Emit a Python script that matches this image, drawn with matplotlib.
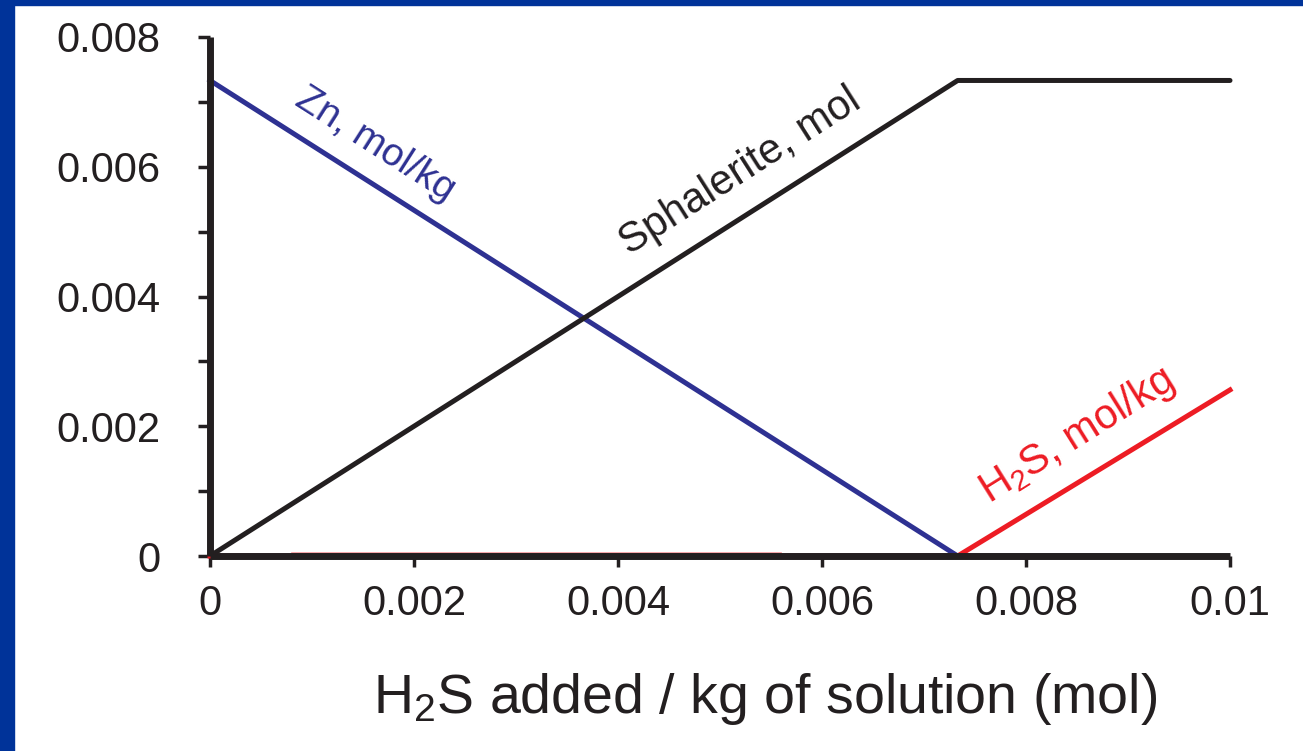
import matplotlib
matplotlib.use("Agg")
import matplotlib.pyplot as plt
from matplotlib.patches import Rectangle

# data (mol)
h2s_added = [0.0, 0.00733, 0.01]
zn_x = [0.0, 0.00733, 0.0088]
zn = [0.00733, 0.0, 0.0]
sphalerite = [0.0, 0.00733, 0.00733]
h2s = [0.0, 0.0, 0.00256]
h2s_trace_x = [0.0008, 0.0056]
h2s_trace = [0.00005, 0.00005]

x_ticks = [0.0, 0.002, 0.004, 0.006, 0.008, 0.01]
x_ticklabels = ['0', '0.002', '0.004', '0.006', '0.008', '0.01']
y_ticks = [0.0, 0.002, 0.004, 0.006, 0.008]
y_ticklabels = ['0', '0.002', '0.004', '0.006', '0.008']
y_minor = [0.001, 0.003, 0.005, 0.007]

c_blue = '#2E3192'
c_black = '#231F20'
c_red = '#ED1C24'
c_frame = '#003399'

plt.rcParams['font.family'] = ['Liberation Sans', 'DejaVu Sans']
plt.rcParams['mathtext.fontset'] = 'custom'
plt.rcParams['mathtext.rm'] = 'Liberation Sans'
plt.rcParams['mathtext.it'] = 'Liberation Sans:italic'
plt.rcParams['mathtext.default'] = 'rm'

fig = plt.figure(figsize=(13.03, 7.51), dpi=100)
ax = fig.add_axes([210/1303, 195/751, 1020/1303, 519/751])

# blue slide frame
fig.patches.append(Rectangle((0, 0), 14/1303, 1, transform=fig.transFigure,
                             color=c_frame, zorder=10))
fig.patches.append(Rectangle((0, 1 - 5/751), 1, 5/751, transform=fig.transFigure,
                             color=c_frame, zorder=10))

# Lines
ax.plot(h2s_trace_x, h2s_trace, color=c_red, lw=1.2, alpha=0.45, clip_on=False, zorder=1)
ax.plot(zn_x, zn, color=c_blue, lw=3.6, clip_on=False, zorder=2)
ax.plot(h2s_added, sphalerite, color=c_black, lw=3.6, clip_on=False, zorder=2,
        solid_joinstyle='round', solid_capstyle='round')
ax.plot(h2s_added, h2s, color=c_red, lw=3.6, clip_on=False, zorder=2)

# Line labels
ax.text(0.00162, 0.00634, 'Zn, mol/kg', color=c_blue, fontsize=28, rotation=-32.5,
        rotation_mode='anchor', ha='center', va='center')
ax.text(0.00520, 0.00592, 'Sphalerite, mol', color=c_black, fontsize=30, rotation=32.5,
        rotation_mode='anchor', ha='center', va='center')
ax.text(0.00850, 0.00185, r'H$_2$S, mol/kg', color=c_red, fontsize=30, rotation=32,
        rotation_mode='anchor', ha='center', va='center')

# Axes
ax.set_xlim(0, 0.01)
ax.set_ylim(0, 0.008)
for s in ['top', 'right']:
    ax.spines[s].set_visible(False)
for s in ['left', 'bottom']:
    ax.spines[s].set_linewidth(5)
    ax.spines[s].set_color(c_black)
    ax.spines[s].set_capstyle('butt')

ax.set_xticks(x_ticks)
ax.set_xticklabels(x_ticklabels)
ax.set_yticks(y_ticks)
ax.set_yticklabels(y_ticklabels)
ax.set_yticks(y_minor, minor=True)
ax.tick_params(axis='both', which='both', direction='out', color=c_black,
               labelsize=30, labelcolor='#231F20')
ax.tick_params(axis='x', length=8, width=2.5, pad=12)
ax.tick_params(axis='y', which='both', length=8.5, width=2.5, pad=27)

fig.text(765/1303, 38/751, r'H$_2$S added / kg of solution (mol)', fontsize=40,
         color=c_black, ha='center', va='baseline')

fig.savefig('out.png', dpi=100)
